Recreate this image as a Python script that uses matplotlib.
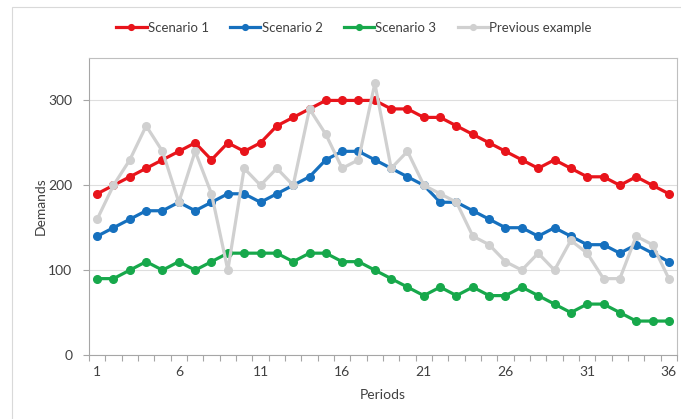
import numpy as np
import matplotlib.pyplot as plt
from matplotlib.patches import Rectangle

# --- dane ---
periods = np.arange(1, 37)
scenario1 = [190, 200, 210, 220, 230, 240, 250, 230, 250, 240, 250, 270,
             280, 290, 300, 300, 300, 300, 290, 290, 280, 280, 270, 260,
             250, 240, 230, 220, 230, 220, 210, 210, 200, 210, 200, 190]
scenario2 = [140, 150, 160, 170, 170, 180, 170, 180, 190, 190, 180, 190,
             200, 210, 230, 240, 240, 230, 220, 210, 200, 180, 180, 170,
             160, 150, 150, 140, 150, 140, 130, 130, 120, 130, 120, 110]
scenario3 = [90, 90, 100, 110, 100, 110, 100, 110, 120, 120, 120, 120,
             110, 120, 120, 110, 110, 100, 90, 80, 70, 80, 70, 80,
             70, 70, 80, 70, 60, 50, 60, 60, 50, 40, 40, 40]
previous = [160, 200, 230, 270, 240, 180, 240, 190, 100, 220, 200, 220,
            200, 290, 260, 220, 230, 320, 220, 240, 200, 190, 180, 140,
            130, 110, 100, 120, 100, 135, 120, 90, 90, 140, 130, 90]
xtick_labels = [1, 6, 11, 16, 21, 26, 31, 36]
ytick_values = [0, 100, 200, 300]

plt.rcParams['font.family'] = ['Lato', 'DejaVu Sans']
txt = '#404040'

fig = plt.figure(figsize=(6.81, 4.19), dpi=100)
# ramka obszaru wykresu
fig.patches.append(Rectangle((12 / 681, -0.1), 1.0, 1 - 7 / 419 + 0.1,
                             transform=fig.transFigure, fill=False,
                             edgecolor='#D9D9D9', lw=0.8))

ax = fig.add_axes([89 / 681, 1 - 355 / 419, (677 - 89) / 681, (355 - 58) / 419])

series = [
    ("Scenario 1", scenario1, '#E8141B'),
    ("Scenario 2", scenario2, '#1670BE'),
    ("Scenario 3", scenario3, '#17A84B'),
    ("Previous example", previous, '#D0D0D0'),
]
for name, vals, col in series:
    ax.plot(periods, vals, color=col, lw=2.3, marker='o', ms=5.5,
            label=name, zorder=3)

ax.set_xlim(0.5, 36.5)
ax.set_ylim(0, 350)
ax.set_yticks(ytick_values)
ax.grid(axis='y', color='#DEDEDE', lw=0.8)
ax.set_axisbelow(True)

# znaczniki osi X na granicach kategorii, etykiety co 5
ax.set_xticks(np.arange(0.5, 37, 1))
ax.set_xticklabels([])
ax.set_xticks(xtick_labels, minor=True)
ax.set_xticklabels([str(v) for v in xtick_labels], minor=True)
ax.tick_params(axis='x', which='major', length=4, color='#A6A6A6', width=0.8)
ax.tick_params(axis='x', which='minor', length=0, pad=8, labelsize=10,
               labelcolor=txt)
ax.tick_params(axis='y', length=4, color='#A6A6A6', width=0.8, pad=8,
               labelsize=10, labelcolor=txt)

for s in ['left', 'bottom']:
    ax.spines[s].set_color('#A6A6A6')
for s in ['top', 'right']:
    ax.spines[s].set_color('#BFBFBF')

ax.set_xlabel("Periods", fontsize=10, color=txt, labelpad=8)
ax.set_ylabel("Demands", fontsize=10, color=txt, labelpad=1)

fig.legend(loc='center', bbox_to_anchor=(354 / 681, 1 - 28 / 419), ncol=4,
           frameon=False, fontsize=9.5, handlelength=2.3, handletextpad=0.1,
           columnspacing=1.6, markerscale=0.75, labelcolor=txt)

fig.savefig('out.png', dpi=100, facecolor='white')
